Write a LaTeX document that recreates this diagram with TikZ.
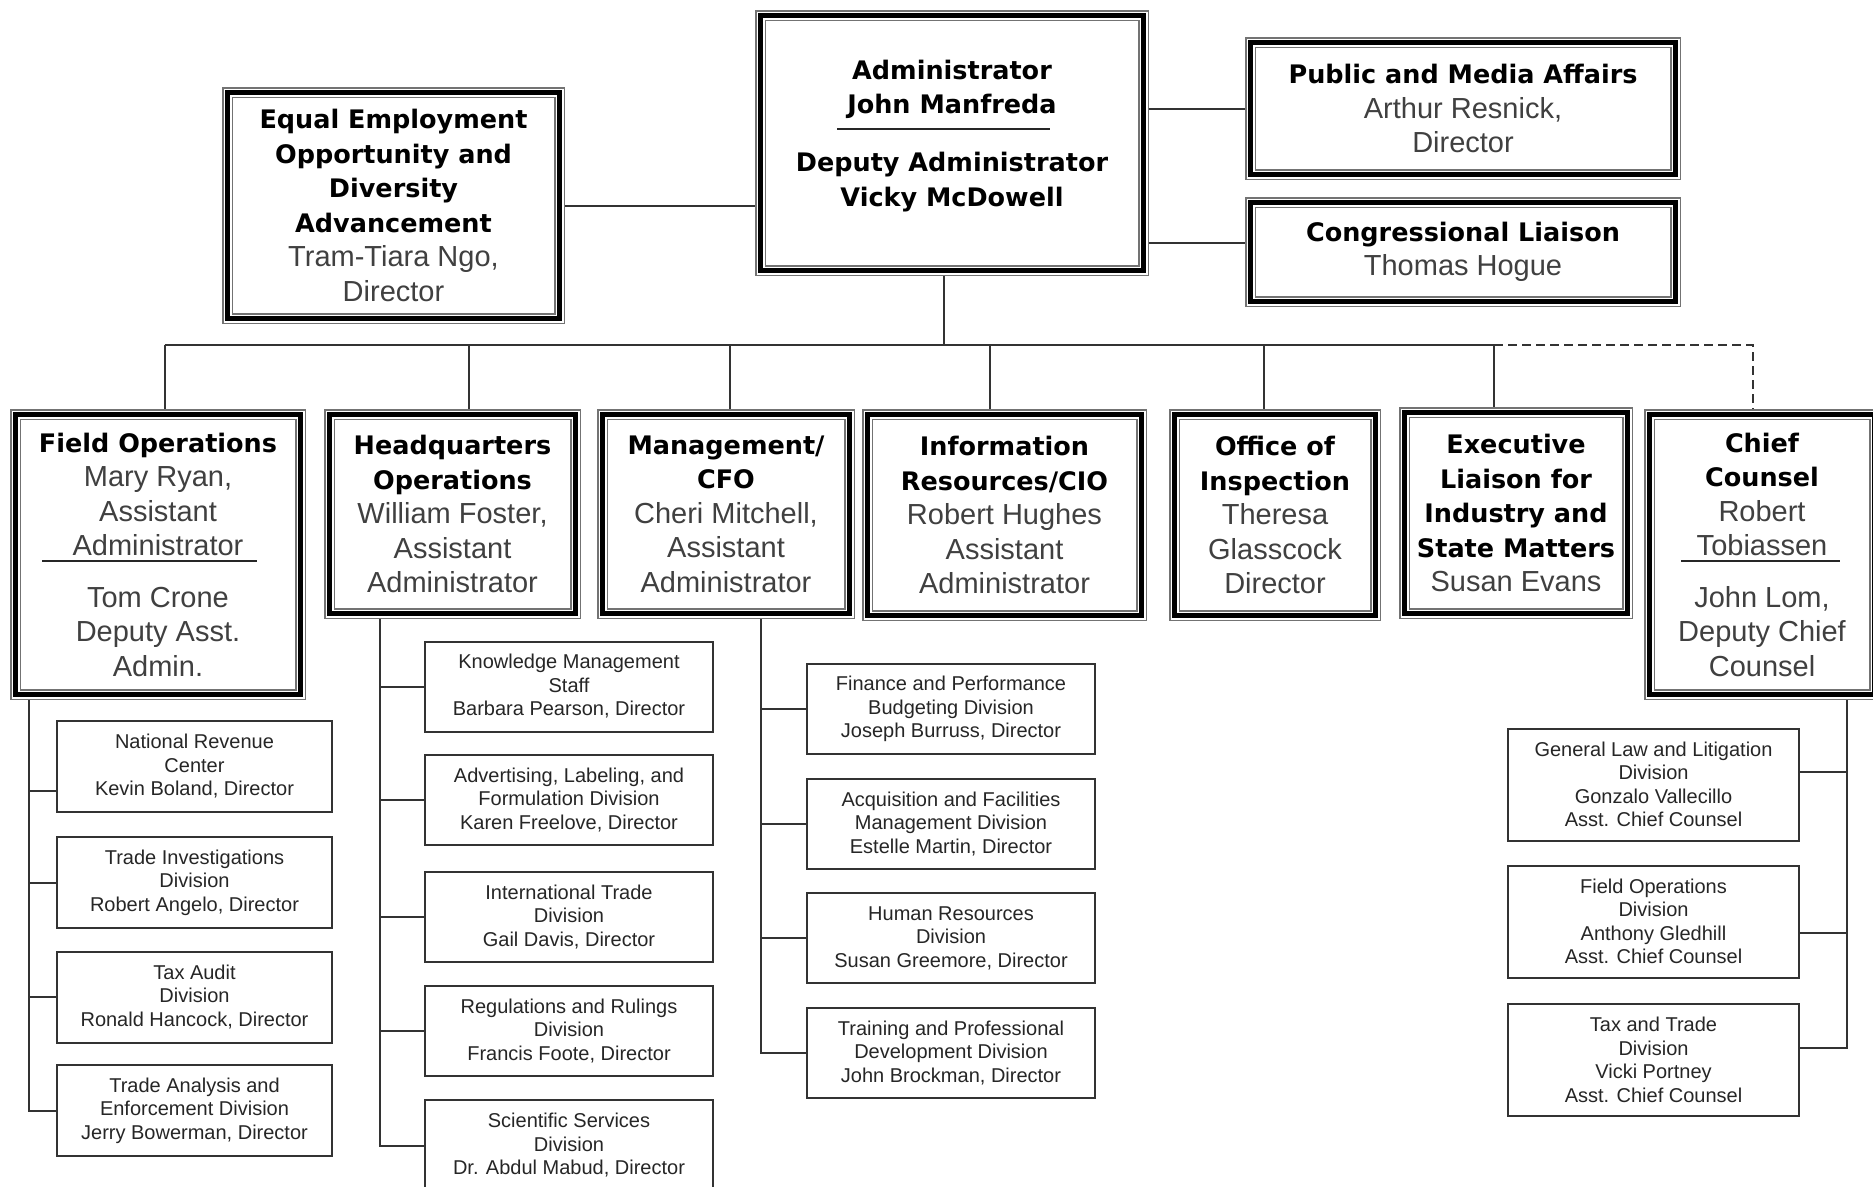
\documentclass[tikz,border=0pt]{standalone}
\usepackage{fontspec}
\setmainfont{Liberation Sans}
\newfontfamily\hdfont{DejaVu Sans}
\usetikzlibrary{calc}
\pgfdeclarelayer{bg}
\pgfsetlayers{bg,main}
\newcommand\BigBold{\hdfont\bfseries\fontsize{25.5}{34.5}\selectfont\color{black}}
\newcommand\BigReg{\rmfamily\mdseries\fontsize{29}{34.5}\selectfont\color{black!75}}
\newcommand\SmallReg{\rmfamily\fontsize{20}{23.5}\selectfont\color{black!85}}
\tikzset{
  frame/.style={draw=black, line width=4.5pt, inner sep=0pt, align=center, font=\BigBold,
    preaction={draw=black!55, line width=11pt},
    preaction={draw=white, line width=8pt}},
  sbox/.style={draw=black!80, line width=2pt, inner sep=0pt, align=center, font=\SmallReg},
  conn/.style={draw=black!80, line width=2pt},
  busline/.style={draw=black!80, line width=2.5pt},
  dconn/.style={draw=black!80, line width=2pt, dash pattern=on 9pt off 5pt},
  rulel/.style={draw=black!85, line width=2pt},
}
\begin{document}
\begin{tikzpicture}[x=1pt,y=-1pt]
\useasboundingbox (0,0) rectangle (1873,1186);
\begin{pgfonlayer}{bg}
\fill[white] (0,0) rectangle (1873,1186);
\end{pgfonlayer}

% ---- top level ----
\node[frame, minimum width=383pt, minimum height=255pt] (adm) at (952,143) {};
\node[align=center, font=\BigBold, inner sep=0pt] (admtxt) at (952,136)
  {Administrator\\John Manfreda\\[23.5pt]Deputy Administrator\\Vicky McDowell};
\node[frame, minimum width=332pt, minimum height=226pt] (eeo) at (393.5,205.5)
  {Equal Employment\\Opportunity and\\Diversity\\Advancement\\{\BigReg Tram-Tiara Ngo,}\\{\BigReg Director}};
\node[frame, minimum width=425pt, minimum height=132pt] (pma) at (1463,108.5)
  {Public and Media Affairs\\{\BigReg Arthur Resnick,}\\{\BigReg Director}};
\node[frame, minimum width=425pt, minimum height=99pt] (cl) at (1463,252)
  {Congressional Liaison\\{\BigReg Thomas Hogue}};

% ---- second level ----
\node[frame, minimum width=285pt, minimum height=280pt] (fo) at (158,554.5)
  {Field Operations\\{\BigReg Mary Ryan,}\\{\BigReg Assistant}\\{\BigReg Administrator}\\[17pt]{\BigReg Tom Crone}\\{\BigReg Deputy Asst.}\\{\BigReg Admin.}};
\node[frame, minimum width=246pt, minimum height=199pt] (hq) at (452.5,514)
  {Headquarters\\Operations\\{\BigReg William Foster,}\\{\BigReg Assistant}\\{\BigReg Administrator}};
\node[frame, minimum width=247pt, minimum height=199pt] (mg) at (726,514)
  {Management/\\CFO\\{\BigReg Cheri Mitchell,}\\{\BigReg Assistant}\\{\BigReg Administrator}};
\node[frame, minimum width=274pt, minimum height=201pt] (ir) at (1004.5,515)
  {Information\\Resources/CIO\\{\BigReg Robert Hughes}\\{\BigReg Assistant}\\{\BigReg Administrator}};
\node[frame, minimum width=201pt, minimum height=201pt] (oi) at (1275,515)
  {Office of\\Inspection\\{\BigReg Theresa}\\{\BigReg Glasscock}\\{\BigReg Director}};
\node[frame, minimum width=223pt, minimum height=201pt] (el) at (1516,513)
  {Executive\\Liaison for\\Industry and\\State Matters\\{\BigReg Susan Evans}};
\node[frame, minimum width=225pt, minimum height=280pt] (cc) at (1762,554.5)
  {Chief\\Counsel\\{\BigReg Robert}\\{\BigReg Tobiassen}\\[17pt]{\BigReg John Lom,}\\{\BigReg Deputy Chief}\\{\BigReg Counsel}};

% rules inside boxes
\draw[rulel] (837,129) -- (1050,129);
\draw[rulel] (42,561) -- (257,561);
\draw[rulel] (1681,561) -- (1840,561);

% ---- field operations children ----
\node[sbox, minimum width=275pt, minimum height=91pt] (nrc) at (194.5,766.5)
  {National Revenue\\Center\\Kevin Boland, Director};
\node[sbox, minimum width=275pt, minimum height=91pt] (ti) at (194.5,882.5)
  {Trade Investigations\\Division\\Robert Angelo, Director};
\node[sbox, minimum width=275pt, minimum height=91pt] (ta) at (194.5,997)
  {Tax Audit\\Division\\Ronald Hancock, Director};
\node[sbox, minimum width=275pt, minimum height=91pt] (tae) at (194.5,1110.5)
  {Trade Analysis and\\Enforcement Division\\Jerry Bowerman, Director};

% ---- HQ children ----
\node[sbox, minimum width=288pt, minimum height=90pt] (km) at (569,686.5)
  {Knowledge Management\\Staff\\Barbara Pearson, Director};
\node[sbox, minimum width=288pt, minimum height=90pt] (adv) at (569,800)
  {Advertising, Labeling, and\\Formulation Division\\Karen Freelove, Director};
\node[sbox, minimum width=288pt, minimum height=90pt] (itd) at (569,917)
  {International Trade\\Division\\Gail Davis, Director};
\node[sbox, minimum width=288pt, minimum height=90pt] (reg) at (569,1031)
  {Regulations and Rulings\\Division\\Francis Foote, Director};
\node[sbox, minimum width=288pt, minimum height=92pt] (sci) at (569,1145.5)
  {Scientific Services\\Division\\Dr. Abdul Mabud, Director};

% ---- Management children ----
\node[sbox, minimum width=288pt, minimum height=90pt] (fin) at (951,709)
  {Finance and Performance\\Budgeting Division\\Joseph Burruss, Director};
\node[sbox, minimum width=288pt, minimum height=90pt] (acq) at (951,824)
  {Acquisition and Facilities\\Management Division\\Estelle Martin, Director};
\node[sbox, minimum width=288pt, minimum height=90pt] (hr) at (951,938)
  {Human Resources\\Division\\Susan Greemore, Director};
\node[sbox, minimum width=288pt, minimum height=90pt] (trn) at (951,1053)
  {Training and Professional\\Development Division\\John Brockman, Director};

% ---- Chief Counsel children ----
\node[sbox, minimum width=291pt, minimum height=112pt] (gl) at (1653.5,784.5)
  {General Law and Litigation\\Division\\Gonzalo Vallecillo\\Asst. Chief Counsel};
\node[sbox, minimum width=291pt, minimum height=112pt] (fodv) at (1653.5,921.5)
  {Field Operations\\Division\\Anthony Gledhill\\Asst. Chief Counsel};
\node[sbox, minimum width=291pt, minimum height=112pt] (tt) at (1653.5,1060)
  {Tax and Trade\\Division\\Vicki Portney\\Asst. Chief Counsel};

% ---- connectors ----
\coordinate (busy) at (0,345);
\coordinate (d0) at ([xshift=-8pt]adm.south);
\coordinate (d1) at ([xshift=6.5pt]fo.north);
\coordinate (d2) at ([xshift=16.5pt]hq.north);
\coordinate (d3) at ([xshift=4pt]mg.north);
\coordinate (d4) at ([xshift=-15pt]ir.north);
\coordinate (d5) at ([xshift=-11pt]oi.north);
\coordinate (d6) at ([xshift=-22pt]el.north);
\coordinate (d7) at ([xshift=-9pt]cc.north);
\coordinate (clc) at ([yshift=9pt]cl.west);
\coordinate (fosp) at (29,0);
\coordinate (hqsp) at (380,0);
\coordinate (mgsp) at (761,0);
\coordinate (ccsp) at (1847,0);
\coordinate (nrcs) at ([yshift=-24pt]nrc.west);
\coordinate (gls) at ([yshift=13pt]gl.east);
\coordinate (fods) at ([yshift=-11pt]fodv.east);
\coordinate (tts) at ([yshift=12pt]tt.east);

\begin{pgfonlayer}{bg}
\draw[conn] (eeo.east) -- (eeo.east -| adm.west);
\draw[conn] (pma.west -| adm.east) -- (pma.west);
\draw[conn] (clc -| adm.east) -- (clc);
\draw[conn] (d0) -- (d0 |- busy);
\draw[busline] (d1 |- busy) -- (d6 |- busy);
\foreach \d in {d1,d2,d3,d4,d5,d6}{
  \draw[conn] (\d |- busy) -- (\d);
}
\draw[dconn] (d6 |- busy) -| (d7);

% field ops spine
\draw[conn] (fo.south -| fosp) |- (tae.west);
\draw[conn] (fosp |- nrcs) -- (nrcs);
\draw[conn] (fosp |- ti.west) -- (ti.west);
\draw[conn] (fosp |- ta.west) -- (ta.west);
% hq spine
\draw[conn] (hq.south -| hqsp) |- (sci.west);
\foreach \n in {km,adv,itd,reg}{
  \draw[conn] (hqsp |- \n.west) -- (\n.west);
}
% mgmt spine
\draw[conn] (mg.south -| mgsp) |- (trn.west);
\foreach \n in {fin,acq,hr}{
  \draw[conn] (mgsp |- \n.west) -- (\n.west);
}
% chief counsel spine
\draw[conn] (cc.south -| ccsp) |- (tts);
\draw[conn] (ccsp |- gls) -- (gls);
\draw[conn] (ccsp |- fods) -- (fods);
\end{pgfonlayer}
\end{tikzpicture}
\end{document}
